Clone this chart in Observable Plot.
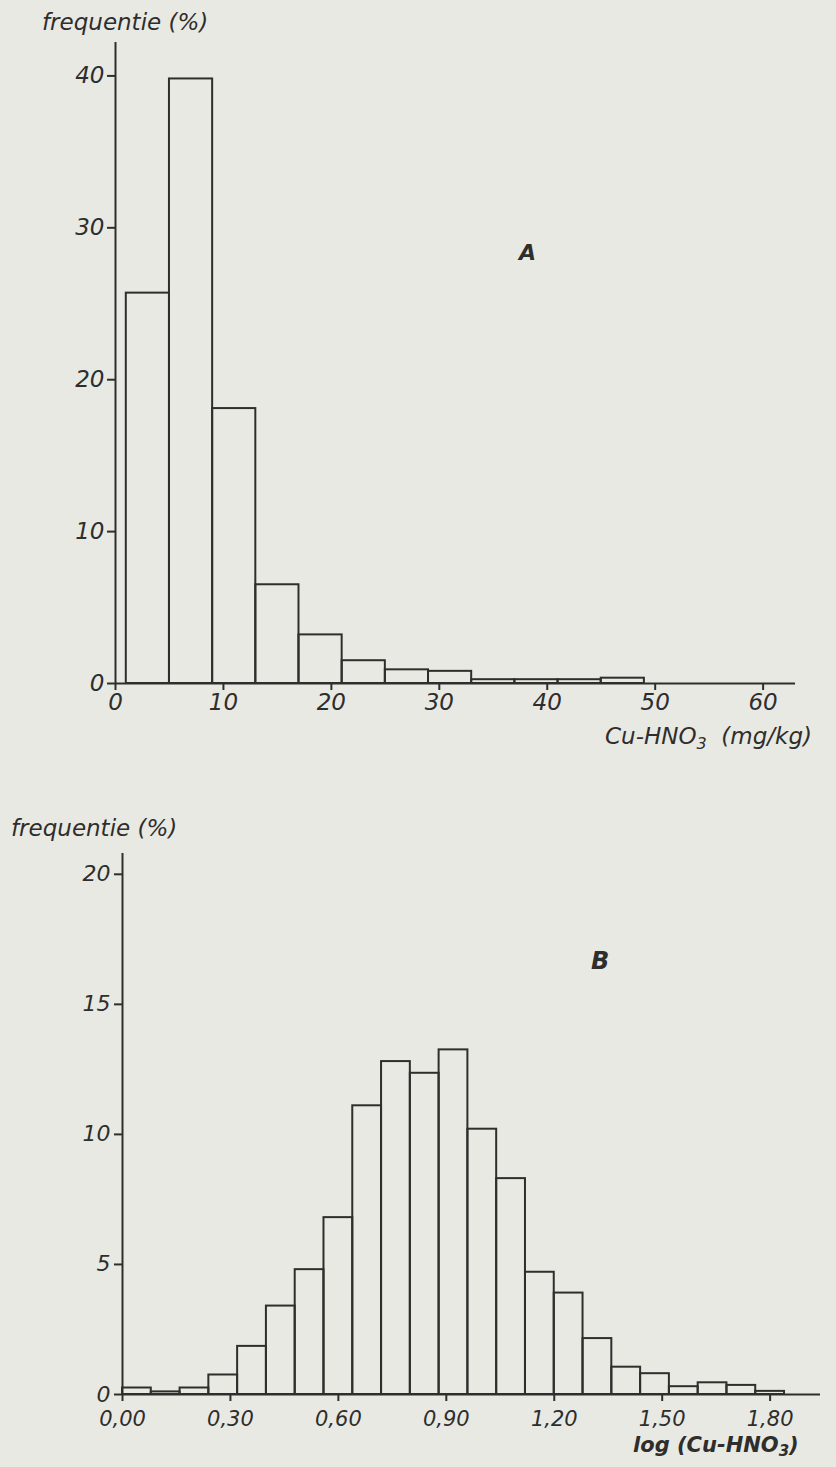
<!DOCTYPE html>
<html>
<head>
<meta charset="utf-8">
<script src="https://cdn.jsdelivr.net/npm/d3@7"></script>
<script src="https://cdn.jsdelivr.net/npm/@observablehq/plot@0.6"></script>
<style>
  html, body { margin: 0; padding: 0; background: #e9e9e4; }
  #page { position: relative; width: 836px; height: 1467px; overflow: hidden; background: #e9e9e4; }
  .chart { position: absolute; left: 0; }
  .lbl { position: absolute; font-family: "DejaVu Sans", sans-serif; font-style: italic; color: #2e2e2c; line-height: 1; white-space: nowrap; }
</style>
</head>
<body>
<div id="page">
  <div class="chart" id="chartA" style="top:0px"></div>
  <div class="chart" id="chartB" style="top:760px"></div>
  <div class="lbl" style="left:42px; top:11px; font-size:23px;">frequentie (%)</div>
  <div class="lbl" style="left:519px; top:242px; font-size:22px; font-weight:bold;">A</div>
  <div class="lbl" style="left:605px; top:725px; font-size:23px;">Cu-HNO<sub style="font-size:16px; vertical-align:-5px;">3</sub>&nbsp; (mg/kg)</div>
  <div class="lbl" style="left:11px; top:817px; font-size:23px;">frequentie (%)</div>
  <div class="lbl" style="left:591px; top:949px; font-size:24px; font-weight:bold;">B</div>
  <div class="lbl" style="left:633px; top:1435px; font-size:21px; font-weight:bold;">log (Cu-HNO<sub style="font-size:15px; vertical-align:-4px;">3</sub>)</div>
</div>
<script>
// ---- Chart A: Cu-HNO3 (mg/kg), class width 4 ----
const binLowA  = [1, 5, 9, 13, 17, 21, 25, 29, 33, 37, 41, 45];
const binHighA = [5, 9, 13, 17, 21, 25, 29, 33, 37, 41, 45, 49];
const freqA    = [25.7, 39.8, 18.1, 6.5, 3.2, 1.5, 0.9, 0.8, 0.25, 0.25, 0.25, 0.35];
const xTicksA  = [0, 10, 20, 30, 40, 50, 60];
const yTicksA  = [0, 10, 20, 30, 40];

// ---- Chart B: log(Cu-HNO3), class width 0.08 ----
const binLowB  = [0.00, 0.08, 0.16, 0.24, 0.32, 0.40, 0.48, 0.56, 0.64, 0.72, 0.80, 0.88,
                  0.96, 1.04, 1.12, 1.20, 1.28, 1.36, 1.44, 1.52, 1.60, 1.68, 1.76];
const binHighB = [0.08, 0.16, 0.24, 0.32, 0.40, 0.48, 0.56, 0.64, 0.72, 0.80, 0.88, 0.96,
                  1.04, 1.12, 1.20, 1.28, 1.36, 1.44, 1.52, 1.60, 1.68, 1.76, 1.84];
const freqB    = [0.25, 0.1, 0.25, 0.75, 1.85, 3.4, 4.8, 6.8, 11.1, 12.8, 12.35, 13.25,
                  10.2, 8.3, 4.7, 3.9, 2.15, 1.05, 0.8, 0.3, 0.45, 0.35, 0.12];
const xTicksB  = [0.0, 0.3, 0.6, 0.9, 1.2, 1.5, 1.8];
const yTicksB  = [0, 5, 10, 15, 20];

const ink = "#2e2e2c";
const dataA = binLowA.map((d, i) => ({x1: d, x2: binHighA[i], freq: freqA[i]}));
const dataB = binLowB.map((d, i) => ({x1: d, x2: binHighB[i], freq: freqB[i]}));

const baseStyle = {
  fontFamily: "DejaVu Sans, sans-serif",
  fontStyle: "italic",
  fontSize: "23px",
  color: ink,
  background: "transparent",
  overflow: "visible"
};

const plotA = Plot.plot({
  width: 836,
  height: 750,
  marginLeft: 115,
  marginRight: 41,
  marginTop: 42,
  marginBottom: 67,
  style: baseStyle,
  x: {domain: [0, 63]},
  y: {domain: [0, 42.2]},
  marks: [
    Plot.rectY(dataA, {x1: "x1", x2: "x2", y: "freq", fill: "none", stroke: ink, strokeWidth: 2}),
    Plot.ruleY([0], {stroke: ink, strokeWidth: 2}),
    Plot.ruleX([0], {stroke: ink, strokeWidth: 2}),
    Plot.axisY({ticks: yTicksA, tickSize: 8, tickPadding: 3, label: null, strokeWidth: 2}),
    Plot.axisX({ticks: xTicksA, tickSize: 7, tickPadding: 3, label: null, strokeWidth: 2, tickFormat: d => String(d)})
  ]
});
document.getElementById("chartA").append(plotA);

const plotB = Plot.plot({
  width: 836,
  height: 707,
  marginLeft: 122,
  marginRight: 16,
  marginTop: 93,
  marginBottom: 73,
  style: baseStyle,
  x: {domain: [0, 1.94]},
  y: {domain: [0, 20.8]},
  marks: [
    Plot.rectY(dataB, {x1: "x1", x2: "x2", y: "freq", fill: "none", stroke: ink, strokeWidth: 2}),
    Plot.ruleY([0], {stroke: ink, strokeWidth: 2}),
    Plot.ruleX([0], {stroke: ink, strokeWidth: 2}),
    Plot.axisY({ticks: yTicksB, tickSize: 8, tickPadding: 4, label: null, strokeWidth: 2, fontSize: 22}),
    Plot.axisX({ticks: xTicksB, tickSize: 7, tickPadding: 10, label: null, strokeWidth: 2, fontSize: 21,
                tickFormat: d => d.toFixed(2).replace(".", ",")})
  ]
});
document.getElementById("chartB").append(plotB);
</script>
</body>
</html>
